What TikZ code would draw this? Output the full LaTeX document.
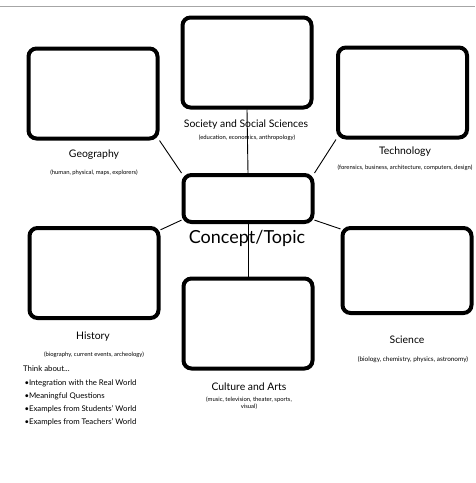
\documentclass[tikz,border=0pt]{standalone}
\usepackage{fontspec}
\setmainfont{Lato}
\begin{document}
\begin{tikzpicture}[x=1pt,y=-1pt]
	\tikzstyle{box}=[rectangle,draw=black,line width=4pt,rounded corners=8pt,minimum width=129pt,minimum height=90pt]
	\tikzstyle{edge}=[draw=black,line width=0.9pt]
	\tikzstyle{title}=[inner sep=0pt,font=\fontsize{10.4}{13}\selectfont]
	\tikzstyle{note}=[inner sep=0pt,align=center,font=\fontsize{5.9}{7.5}\selectfont]

	\useasboundingbox (0,0) rectangle (475,483);
	\draw[gray!70,line width=0.6pt] (0,6) -- (475,6);

	\node [box] (soc) at (247,62.5) {};
	\node [box] (geo) at (93,93.5) {};
	\node [box] (tech) at (402.5,92.5) {};
	\node [box,minimum height=47pt] (topic) at (248,198.5) {};
	\node [box] (hist) at (94,273) {};
	\node [box,minimum height=85pt] (sci) at (407,270.5) {};
	\node [box] (cult) at (248,323.5) {};

	\path[edge] (soc.south) -- (topic.north);
	\path[edge] (geo.south east) -- (topic.north west);
	\path[edge] (tech.south west) -- (topic.north east);
	\path[edge] (topic.198) -- (hist.33);
	\path[edge] (topic.-18) -- (sci.148);
	\path[edge] (topic.south) -- (cult.north);

	\node [title] (soclabel) at (246,125) {Society and Social Sciences};
	\node [note] (socnote) at (247,138) {(education, economics, anthropology)};
	\node [title] (geolabel) at (94,155) {Geography};
	\node [note] (geonote) at (94,173) {(human, physical, maps, explorers)};
	\node [title] (techlabel) at (405,152) {Technology};
	\node [note] (technote) at (405,168) {(forensics, business, architecture, computers, design)};
	\node [inner sep=0pt,font=\fontsize{18}{22}\selectfont] (topiclabel) at (247,238) {Concept/Topic};
	\node [title] (histlabel) at (93,337) {History};
	\node [note] (histnote) at (94,355) {(biography, current events, archeology)};
	\node [title] (scilabel) at (407,340) {Science};
	\node [note,font=\fontsize{6.4}{8}\selectfont] (scinote) at (413,360) {(biology, chemistry, physics, astronomy)};
	\node [title] (cultlabel) at (249,387) {Culture and Arts};
	\node [note] (cultnote) at (249,403) {(music, television, theater, sports,\\visual)};
	\node [inner sep=0pt,anchor=north west,align=left,font=\fontsize{7.8}{13.2}\selectfont] (think) at (23,366)
		{Think about...\\
		 \,•Integration with the Real World\\
		 \,•Meaningful Questions\\
		 \,•Examples from Students' World\\
		 \,•Examples from Teachers' World};
\end{tikzpicture}
\end{document}
